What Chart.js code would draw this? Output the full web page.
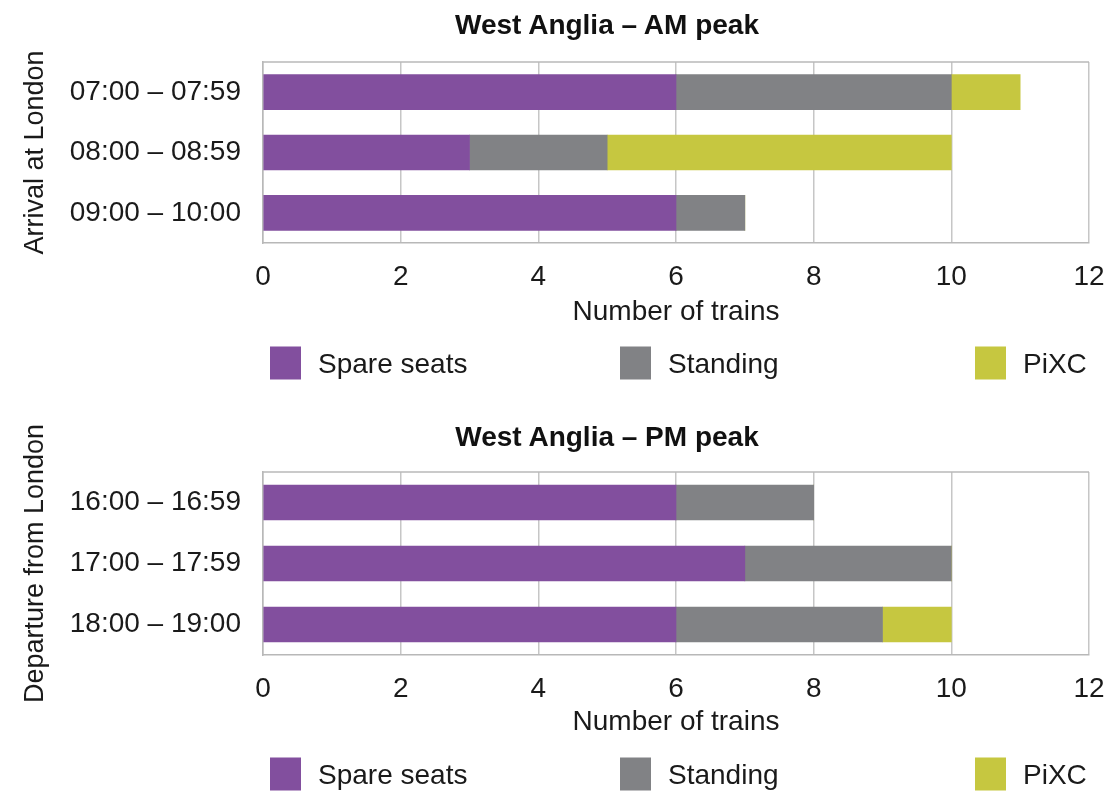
<!DOCTYPE html>
<html>
<head>
<meta charset="utf-8">
<title>West Anglia – peak loading</title>
<script src="https://cdn.jsdelivr.net/npm/chart.js@4.4.1/dist/chart.umd.min.js"></script>
<style>
  html, body { margin: 0; padding: 0; background: #fff; }
  body { font-family: "Liberation Sans", Arial, sans-serif; color: #1a1a1a; }
  #wrap { position: relative; width: 1110px; height: 791px; overflow: hidden; }
  canvas { position: absolute; left: 0; }
  .title { position: absolute; transform: translate(-50%, -50%); white-space: nowrap;
           font-weight: bold; font-size: 28px; color: #111; }
  .legend-item { position: absolute; display: flex; align-items: center; white-space: nowrap;
                 font-size: 28px; color: #1a1a1a; transform: translateY(-50%); }
  .legend-item span.box { display: inline-block; width: 31px; height: 33px; margin-right: 17px; }
</style>
</head>
<body>
<div id="wrap">
  <canvas id="amChart" width="1110" height="395" style="top:0"></canvas>
  <canvas id="pmChart" width="1110" height="396" style="top:395px"></canvas>
</div>
<script>
// Peak-hour train loading on West Anglia services, by hour of arrival / departure
const amCategories = ['07:00 – 07:59', '08:00 – 08:59', '09:00 – 10:00'];
const pmCategories = ['16:00 – 16:59', '17:00 – 17:59', '18:00 – 19:00'];

const seriesNames = ['Spare seats', 'Standing', 'PiXC'];
const seriesColors = ['#824f9e', '#818285', '#c6c740'];

// Number of trains in each loading band
const amSpare    = [6, 3, 6];
const amStanding = [4, 2, 1];
const amPixc     = [1, 5, 0];

const pmSpare    = [6, 7, 6];
const pmStanding = [2, 3, 3];
const pmPixc     = [0, 0, 1];

const xAxisMin = 0;
const xAxisMax = 12;
const xAxisStep = 2;

const FONT = '"Liberation Sans", Arial, sans-serif';
const TEXT = '#1a1a1a';

// Closes the plot box along the top edge
const frame = {
  id: 'frame',
  afterDraw(chart) {
    const { ctx, chartArea: a } = chart;
    ctx.save();
    ctx.strokeStyle = '#b8b8b8';
    ctx.lineWidth = 1.5;
    ctx.beginPath();
    ctx.moveTo(a.left, a.top);
    ctx.lineTo(a.right, a.top);
    ctx.stroke();
    ctx.restore();
  }
};

function makeChart(id, categories, values, yTitle, pad, xAxisHeight) {
  const leftPad = 10;
  return new Chart(document.getElementById(id), {
    type: 'bar',
    data: {
      labels: categories,
      datasets: values.map((v, i) => ({
        label: seriesNames[i],
        data: v,
        backgroundColor: seriesColors[i],
        borderWidth: 0,
        barThickness: 35
      }))
    },
    options: {
      indexAxis: 'y',
      responsive: false,
      animation: false,
      layout: { padding: { top: pad.top, right: 21, bottom: pad.bottom, left: leftPad } },
      plugins: { legend: { display: false }, tooltip: { enabled: false }, title: { display: false } },
      scales: {
        x: {
          stacked: true,
          min: xAxisMin,
          max: xAxisMax,
          ticks: { stepSize: xAxisStep, padding: 17, color: TEXT, font: { family: FONT, size: 28 } },
          grid: { color: '#c6c6c6', lineWidth: 1.5, drawTicks: false },
          border: { color: '#b8b8b8', width: 1.5 },
          title: { display: true, text: 'Number of trains', color: TEXT,
                   font: { family: FONT, size: 28 }, padding: { top: 0, bottom: 0 } },
          afterFit(scale) {
            scale.height = xAxisHeight;
            scale.paddingLeft = 0;
            scale.paddingRight = 0;
          }
        },
        y: {
          stacked: true,
          ticks: { padding: 22, color: TEXT, font: { family: FONT, size: 28 } },
          grid: { display: false, drawTicks: false },
          border: { color: '#b8b8b8', width: 1.5 },
          title: { display: true, text: yTitle, color: TEXT,
                   font: { family: FONT, size: 27 }, padding: { top: 9, bottom: 0 } },
          afterFit(scale) {
            scale.width = 263 - leftPad;
            scale.paddingTop = 0;
            scale.paddingBottom = 0;
          }
        }
      }
    },
    plugins: [frame]
  });
}

makeChart('amChart', amCategories, [amSpare, amStanding, amPixc], 'Arrival at London',
          { top: 62, bottom: 66 }, 86);
makeChart('pmChart', pmCategories, [pmSpare, pmStanding, pmPixc], 'Departure from London',
          { top: 77, bottom: 52 }, 84);

// Titles and legends
const wrap = document.getElementById('wrap');
function addTitle(text, x, y) {
  const d = document.createElement('div');
  d.className = 'title';
  d.textContent = text;
  d.style.left = x + 'px';
  d.style.top = y + 'px';
  wrap.appendChild(d);
}
function addLegend(y) {
  const xs = [270, 620, 975];
  seriesNames.forEach((name, i) => {
    const item = document.createElement('div');
    item.className = 'legend-item';
    item.style.left = xs[i] + 'px';
    item.style.top = y + 'px';
    const box = document.createElement('span');
    box.className = 'box';
    box.style.background = seriesColors[i];
    const label = document.createElement('span');
    label.textContent = name;
    item.appendChild(box);
    item.appendChild(label);
    wrap.appendChild(item);
  });
}
addTitle('West Anglia – AM peak', 607, 25);
addTitle('West Anglia – PM peak', 607, 437);
addLegend(363);
addLegend(774);
</script>
</body>
</html>
